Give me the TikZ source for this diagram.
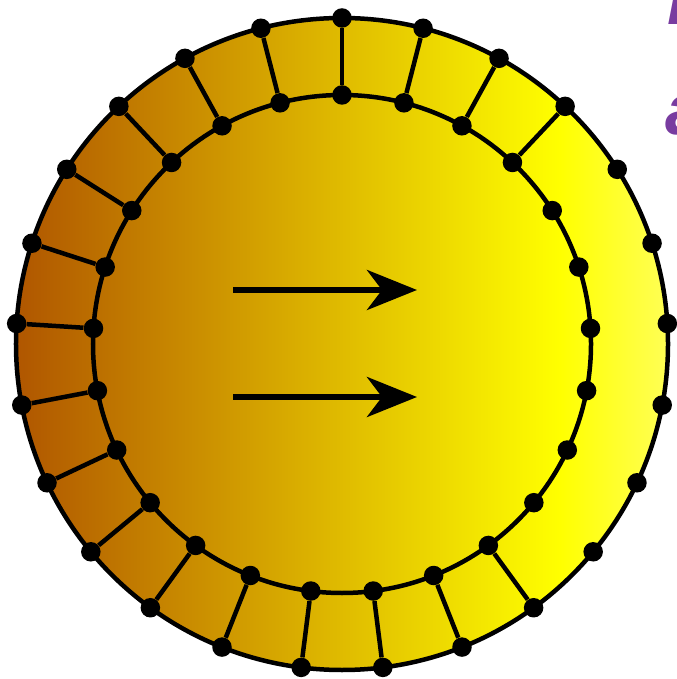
\documentclass[tikz,border=0pt]{standalone}
\usepackage{fontspec}
\newfontfamily\labelfont{Liberation Sans}
\usetikzlibrary{arrows.meta}
\definecolor{ringbrown}{RGB}{176,86,0}
\definecolor{ringyellow}{RGB}{255,255,0}
\definecolor{ringpale}{RGB}{255,255,85}
\definecolor{titlepurple}{RGB}{120,60,160}
\pgfdeclarehorizontalshading{cellshade}{100bp}{color(0bp)=(ringbrown); color(25bp)=(ringbrown); color(66.7bp)=(ringyellow); color(75bp)=(ringpale); color(100bp)=(ringpale)}
\begin{document}
\begin{tikzpicture}[x=1cm,y=1cm,
  rim/.style={line width=0.09cm},
  bead/.style={circle,fill=black,inner sep=0pt,minimum size=0.39cm},
  flow/.style={line width=0.12cm,-{Stealth[length=1cm,width=0.8cm,inset=0.3cm]}},
  title/.style={anchor=base west,inner sep=0pt,text=titlepurple,font=\labelfont\bfseries\itshape\fontsize{41}{49}\selectfont}]
\useasboundingbox (-6.84,-6.70) rectangle (6.68,6.88);
\shade[shading=cellshade] (0,0) circle (6.52);
\draw[rim] (0,0) circle (6.52);
\draw[rim] (0,0) circle (4.98);
\node[bead] (o0) at (90:6.52) {};
\node[bead] (o1) at (75.6:6.52) {};
\node[bead] (o2) at (61.2:6.52) {};
\node[bead] (o3) at (46.8:6.52) {};
\node[bead] (o4) at (32.4:6.52) {};
\node[bead] (o5) at (18:6.52) {};
\node[bead] (o6) at (3.6:6.52) {};
\node[bead] (o7) at (-10.8:6.52) {};
\node[bead] (o8) at (-25.2:6.52) {};
\node[bead] (o9) at (-39.6:6.52) {};
\node[bead] (o10) at (-54:6.52) {};
\node[bead] (o11) at (-68.4:6.52) {};
\node[bead] (o12) at (-82.8:6.52) {};
\node[bead] (o13) at (-97.2:6.52) {};
\node[bead] (o14) at (-111.6:6.52) {};
\node[bead] (o15) at (-126:6.52) {};
\node[bead] (o16) at (-140.4:6.52) {};
\node[bead] (o17) at (-154.8:6.52) {};
\node[bead] (o18) at (-169.2:6.52) {};
\node[bead] (o19) at (176.4:6.52) {};
\node[bead] (o20) at (162:6.52) {};
\node[bead] (o21) at (147.6:6.52) {};
\node[bead] (o22) at (133.2:6.52) {};
\node[bead] (o23) at (118.8:6.52) {};
\node[bead] (o24) at (104.4:6.52) {};
\node[bead] (i0) at (90:4.98) {};
\node[bead] (i1) at (75.6:4.98) {};
\node[bead] (i2) at (61.2:4.98) {};
\node[bead] (i3) at (46.8:4.98) {};
\node[bead] (i4) at (32.4:4.98) {};
\node[bead] (i5) at (18:4.98) {};
\node[bead] (i6) at (3.6:4.98) {};
\node[bead] (i7) at (-10.8:4.98) {};
\node[bead] (i8) at (-25.2:4.98) {};
\node[bead] (i9) at (-39.6:4.98) {};
\node[bead] (i10) at (-54:4.98) {};
\node[bead] (i11) at (-68.4:4.98) {};
\node[bead] (i12) at (-82.8:4.98) {};
\node[bead] (i13) at (-97.2:4.98) {};
\node[bead] (i14) at (-111.6:4.98) {};
\node[bead] (i15) at (-126:4.98) {};
\node[bead] (i16) at (-140.4:4.98) {};
\node[bead] (i17) at (-154.8:4.98) {};
\node[bead] (i18) at (-169.2:4.98) {};
\node[bead] (i19) at (176.4:4.98) {};
\node[bead] (i20) at (162:4.98) {};
\node[bead] (i21) at (147.6:4.98) {};
\node[bead] (i22) at (133.2:4.98) {};
\node[bead] (i23) at (118.8:4.98) {};
\node[bead] (i24) at (104.4:4.98) {};
\draw[rim] (i0) -- (o0);
\draw[rim] (i1) -- (o1);
\draw[rim] (i2) -- (o2);
\draw[rim] (i3) -- (o3);
\draw[rim] (i10) -- (o10);
\draw[rim] (i11) -- (o11);
\draw[rim] (i12) -- (o12);
\draw[rim] (i13) -- (o13);
\draw[rim] (i14) -- (o14);
\draw[rim] (i15) -- (o15);
\draw[rim] (i16) -- (o16);
\draw[rim] (i17) -- (o17);
\draw[rim] (i18) -- (o18);
\draw[rim] (i19) -- (o19);
\draw[rim] (i20) -- (o20);
\draw[rim] (i21) -- (o21);
\draw[rim] (i22) -- (o22);
\draw[rim] (i23) -- (o23);
\draw[rim] (i24) -- (o24);
\coordinate (u0) at (-2.18,1.08);
\coordinate (u1) at (1.50,1.08);
\coordinate (l0) at (-2.18,-1.06);
\coordinate (l1) at (1.50,-1.06);
\draw[flow] (u0) -- (u1);
\draw[flow] (l0) -- (l1);
\begin{scope}
\clip (-6.84,-6.70) rectangle (6.68,6.88);
\node[title] (head1) at (6.50,6.38) {P};
\node[title] (head2) at (6.46,4.18) {a};
\end{scope}
\end{tikzpicture}
\end{document}
